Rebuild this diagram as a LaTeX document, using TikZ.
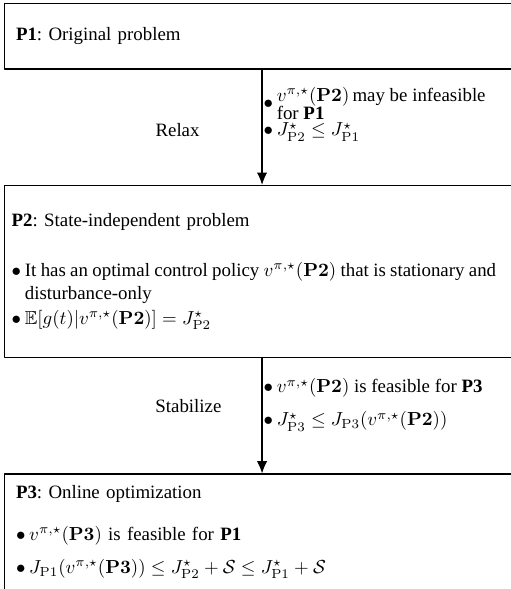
\documentclass[tikz,border=0pt]{standalone}
\usepackage[no-math]{fontspec}
\setmainfont{Liberation Serif}
\usepackage{amssymb}
\usetikzlibrary{positioning,arrows.meta}
\newcommand{\bul}{$\bullet$\hspace{2pt}}
\frenchspacing

\begin{document}
\begin{tikzpicture}[line cap=round,line join=round,>={Latex[length=6.5pt,width=5.5pt]},
		box/.style={draw,line width=0.8pt,minimum width=273pt,inner xsep=6.1pt,text width=260.8pt,align=left},
		note/.style={inner sep=0pt,align=left}]
			\useasboundingbox (0,0) rectangle (270.8pt,-312.2pt);
			\clip (0,0) rectangle (270.8pt,-312.2pt);
			% the three problems
			\node[box,minimum height=34.7pt] (box1) at (138.9pt,-19.2pt) {\textbf{P1}: Original problem};
			\node[box,minimum height=91.2pt,inner xsep=3.8pt,text width=265.4pt,below=61pt of box1] (box2) {\textbf{P2}: State-independent problem\\[14.5pt]
				\mbox{\spaceskip=2.3pt\bul It has an optimal control policy $v^{\pi,\star}(\mathbf{P2})$ that is stationary and}\\
				\hspace*{7pt}disturbance-only\\[1.3pt]
				\bul$\mathbb{E}[g(t)|v^{\pi,\star}(\mathbf{P2})]=J^\star_{\mathrm{P2}}$};
			\node[box,minimum height=61.5pt,below=61pt of box2] (box3) {\textbf{P3}: Online optimization\\[10.3pt]
				\bul$v^{\pi,\star}(\mathbf{P3})$ is feasible for \textbf{P1}\\[5.5pt]
				\bul$J_{\mathrm{P1}}(v^{\pi,\star}(\mathbf{P3}))\le J^\star_{\mathrm{P2}}+\mathcal{S}\le J^\star_{\mathrm{P1}}+\mathcal{S}$};
			% steps between them
			\draw[->,line width=0.6pt] (box1) -- node[midway,left=29.5pt,yshift=-1.6pt] (relax) {Relax}
				node[midway,note,right=0.5pt,yshift=7pt] (note1) {\bul\parbox[c]{118pt}{\baselineskip=10pt\lineskip=0pt $v^{\pi,\star}(\mathbf{P2})$\,may be infeasible\\for \textbf{P1}}\\[0.5pt]
					\bul$J^\star_{\mathrm{P2}}\le J^\star_{\mathrm{P1}}$} (box2);
			\draw[->,line width=0.6pt] (box2) -- node[midway,left=17.9pt,yshift=5pt] (stab) {Stabilize}
				node[midway,note,right=0.5pt,yshift=5.8pt] (note2) {\bul$v^{\pi,\star}(\mathbf{P2})$ is feasible for \textbf{P3}\\[5.5pt]
					\bul$J^\star_{\mathrm{P3}}\le J_{\mathrm{P3}}(v^{\pi,\star}(\mathbf{P2}))$} (box3);
		\end{tikzpicture}
\end{document}
